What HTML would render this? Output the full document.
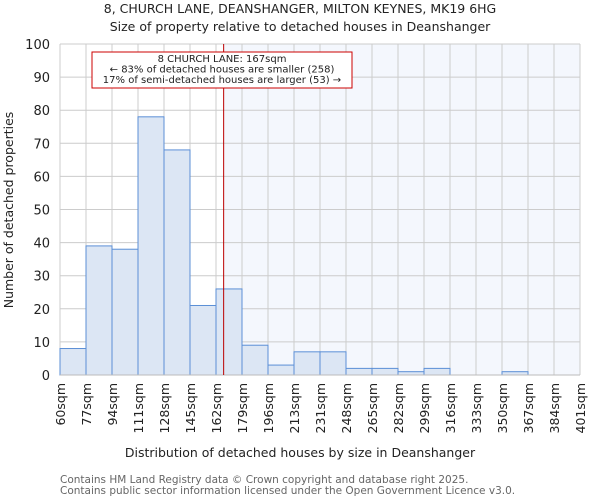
<!DOCTYPE html>
<html><head><meta charset="utf-8"><style>
body{margin:0;background:#fff;font-family:"DejaVu Sans","Liberation Sans",sans-serif;}
</style></head><body>
<svg width="600" height="500" xmlns="http://www.w3.org/2000/svg" font-family="DejaVu Sans, Liberation Sans, sans-serif">
<text x="300" y="13" text-anchor="middle" font-size="12.5" fill="#222">8, CHURCH LANE, DEANSHANGER, MILTON KEYNES, MK19 6HG</text>
<text x="300" y="31" text-anchor="middle" font-size="12.5" fill="#222">Size of property relative to detached houses in Deanshanger</text>
<g id="plot"></g>
<text x="300" y="457" text-anchor="middle" font-size="12.5" fill="#222">Distribution of detached houses by size in Deanshanger</text>
<text transform="translate(13,210) rotate(-90)" text-anchor="middle" font-size="12.5" fill="#222">Number of detached properties</text>
<text x="60" y="483" font-size="10.5" fill="#666">Contains HM Land Registry data © Crown copyright and database right 2025.</text>
<text x="60" y="494" font-size="10.5" fill="#666">Contains public sector information licensed under the Open Government Licence v3.0.</text>
</svg>
<script>
const binEdges=[60,77,94,111,128,145,162,179,196,213,231,248,265,282,299,316,333,350,367,384,401];
const counts=[8,39,38,78,68,21,26,9,3,7,7,2,2,1,2,0,0,1,0,0];
const yTicks=[0,10,20,30,40,50,60,70,80,90,100];
const propertySize=167;
const NS="http://www.w3.org/2000/svg";
const L=60,R=580,T=44,B=375;
const nb=counts.length;
function xIdx(i){return L+(R-L)*i/nb;}
function xVal(v){let i=0;while(i<nb-1&&v>binEdges[i+1])i++;return xIdx(i)+(v-binEdges[i])/(binEdges[i+1]-binEdges[i])*(R-L)/nb;}
function y(v){return B-(B-T)*v/100;}
const g=document.getElementById('plot');
function mk(t,a){const e=document.createElementNS(NS,t);for(const k in a)e.setAttribute(k,a[k]);g.appendChild(e);return e;}
const px=xVal(propertySize);
let sh=mk('rect',{x:px,y:T,width:R-px,height:B-T,fill:'#f4f7fd'});


yTicks.forEach(t=>{
 let l=mk('line',{x1:L,x2:R,y1:y(t),y2:y(t),stroke:'#ccc','stroke-width':1});
 
 
 let tx=mk('text',{x:L-10,y:y(t)+5,'text-anchor':'end','font-size':13,fill:'#222'});
 tx.textContent=t;
 
 
});
binEdges.forEach((b,i)=>{
 let l=mk('line',{x1:xIdx(i),x2:xIdx(i),y1:T,y2:B,stroke:'#ccc','stroke-width':1});
 
 
 let tx=mk('text',{transform:`translate(${xIdx(i)+5},${B+8}) rotate(-90)`,'text-anchor':'end','font-size':12.5,fill:'#222'});
 tx.textContent=b+'sqm';
 
 
});
counts.forEach((c,i)=>{
 if(c<=0)return;
 let r=mk('rect',{x:xIdx(i),y:y(c),width:xIdx(i+1)-xIdx(i),height:B-y(c),fill:'#dce6f4',stroke:'#5b8fd6','stroke-width':1});
 
 
});
let ax=mk('line',{x1:L,x2:R,y1:B,y2:B,stroke:'#bbb'});


let ml=mk('line',{x1:px,x2:px,y1:T,y2:B,stroke:'#b00','stroke-width':1});


let box=mk('rect',{x:92,y:52,width:260,height:36,fill:'#fff',stroke:'#c00','stroke-width':1});


const ann=['8 CHURCH LANE: 167sqm','← 83% of detached houses are smaller (258)','17% of semi-detached houses are larger (53) →'];
ann.forEach((s,i)=>{
 let t=mk('text',{x:222,y:62+i*10.5,'text-anchor':'middle','font-size':10,fill:'#222'});
 t.textContent=s;
 
 
});
</script>
</body></html>
